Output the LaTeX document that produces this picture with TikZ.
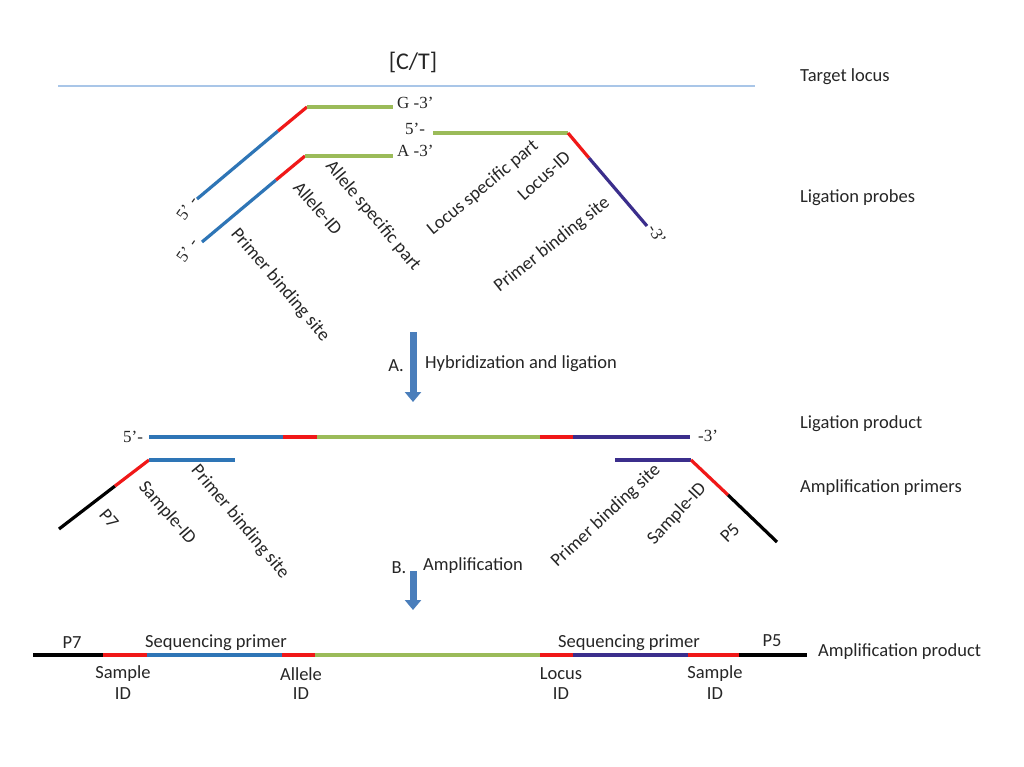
\documentclass[tikz,border=0pt]{standalone}
\usepackage{fontspec}
\setmainfont{Carlito}
\newfontfamily\tms{Liberation Serif}
\usetikzlibrary{arrows.meta}
\definecolor{cblue}{HTML}{2E75B6}
\definecolor{cred}{HTML}{F01818}
\definecolor{cgreen}{HTML}{9BBB59}
\definecolor{cpurple}{HTML}{3B2E8C}
\definecolor{ctarget}{HTML}{A9C6E8}
\definecolor{arrowfill}{HTML}{4A7EBB}
\definecolor{txt}{HTML}{262626}
\begin{document}
\begin{tikzpicture}[x=1pt,y=-1pt,
  seg/.style={line width=3.2pt},
  lab/.style={font=\fontsize{18.5}{21}\selectfont, text=txt, inner sep=0pt},
  tlab/.style={font=\tms\fontsize{17}{20}\selectfont, text=txt, inner sep=0pt},
  bigarrow/.style={arrowfill, line width=7pt, -{Triangle[width=16pt,length=10pt]}}]
\fill[white] (0,0) rectangle (1024,767);
\useasboundingbox (0,0) rectangle (1024,767);

% ---------- target locus ----------
\coordinate (t1) at (58,86); \coordinate (t2) at (755,86);
\draw[ctarget, line width=1.5pt] (t1) -- (t2);
\node[lab, font=\fontsize{24}{28}\selectfont] (ct) at (413,62) {[C/T]};
\node[lab, anchor=mid west] (ltl) at (800,79) {Target locus};

% ---------- ligation probes ----------
\coordinate (ga) at (197,199); \coordinate (gb) at (278,131);
\coordinate (gc) at (307,107); \coordinate (gd) at (393,107);
\draw[seg, cblue] (ga) -- (gb);
\draw[seg, cred] (gb) -- (gc);
\draw[seg, cgreen] (gc) -- (gd);
\node[tlab, anchor=west] (g3) at (397,103) {G -3’};

\coordinate (aa) at (202,242); \coordinate (ab) at (276,180);
\coordinate (ac) at (305,156); \coordinate (ad) at (393,156);
\draw[seg, cblue] (aa) -- (ab);
\draw[seg, cred] (ab) -- (ac);
\draw[seg, cgreen] (ac) -- (ad);
\node[tlab, anchor=west] (a3) at (397,151) {A -3’};

\node[tlab, rotate=55] (p5a) at (187,208) {5’ -};
\node[tlab, rotate=55] (p5b) at (187,250) {5’ -};

\coordinate (la) at (433,133); \coordinate (lb) at (568,133);
\coordinate (lc) at (589,158); \coordinate (ld) at (647,226);
\draw[seg, cgreen] (la) -- (lb);
\draw[seg, cred] (lb) -- (lc);
\draw[seg, cpurple] (lc) -- (ld);
\node[tlab] (l5) at (415,129) {5’-};
\node[tlab, rotate=-60] (l3) at (657,234) {-3’};

\node[lab, rotate=-49] (alid) at (318,208) {Allele-ID};
\node[lab, rotate=-50] (alsp) at (373,216) {Allele specific part};
\node[lab, rotate=-49.5] (pbs1) at (280,285) {Primer binding site};
\node[lab, rotate=39.5] (lssp) at (483,188) {Locus specific part};
\node[lab, rotate=42] (lcid) at (544,176) {Locus-ID};
\node[lab, rotate=38.5] (pbs2) at (552,245) {Primer binding site};
\node[lab, anchor=mid west] (llp) at (800,200) {Ligation probes};

% ---------- arrow A ----------
\coordinate (atop) at (413,332); \coordinate (atip) at (413,402);
\draw[bigarrow] (atop) -- (atip);
\node[lab] (alab) at (396,366) {A.};
\node[lab, anchor=mid west] (atext) at (425,366) {Hybridization and ligation};

% ---------- ligation product ----------
\coordinate (pa) at (149,437); \coordinate (pb) at (283,437);
\coordinate (pc) at (317,437); \coordinate (pd) at (540,437);
\coordinate (pe) at (573,437); \coordinate (pf) at (690,437);
\draw[seg, cblue] (pa) -- (pb);
\draw[seg, cred] (pb) -- (pc);
\draw[seg, cgreen] (pc) -- (pd);
\draw[seg, cred] (pd) -- (pe);
\draw[seg, cpurple] (pe) -- (pf);
\node[tlab] (pp5) at (133,437) {5’-};
\node[tlab] (pp3) at (708,436) {-3’};
\node[lab, anchor=mid west] (llpr) at (800,426) {Ligation product};

% ---------- amplification primers ----------
\coordinate (ma) at (59,529); \coordinate (mb) at (115,486);
\coordinate (mc) at (149,460); \coordinate (md) at (235,460);
\draw[seg, black] (ma) -- (mb);
\draw[seg, cred] (mb) -- (mc);
\draw[seg, cblue] (mc) -- (md);
\coordinate (na) at (615,460); \coordinate (nb) at (691,460);
\coordinate (nc) at (728,495); \coordinate (nd) at (777,542);
\draw[seg, cpurple] (na) -- (nb);
\draw[seg, cred] (nb) -- (nc);
\draw[seg, black] (nc) -- (nd);

\node[lab, rotate=-50] (p7r) at (109,519) {P7};
\node[lab, rotate=-49] (sid1) at (167,513) {Sample-ID};
\node[lab, rotate=-50] (pbs3) at (240,522) {Primer binding site};
\node[lab, rotate=43] (pbs4) at (606,516) {Primer binding site};
\node[lab, rotate=47] (sid2) at (677,514) {Sample-ID};
\node[lab, rotate=45] (p5r) at (730,533) {P5};
\node[lab, anchor=mid west] (lap) at (800,490) {Amplification primers};

% ---------- arrow B ----------
\coordinate (btop) at (413,571); \coordinate (btip) at (413,610);
\draw[bigarrow] (btop) -- (btip);
\node[lab] (blab) at (399,568) {B.};
\node[lab, anchor=mid west] (btext) at (423,568) {Amplification};

% ---------- amplification product ----------
\coordinate (qa) at (33,655); \coordinate (qb) at (103,655);
\coordinate (qc) at (147,655); \coordinate (qd) at (282,655);
\coordinate (qe) at (315,655); \coordinate (qf) at (540,655);
\coordinate (qg) at (573,655); \coordinate (qh) at (688,655);
\coordinate (qi) at (739,655); \coordinate (qj) at (807,655);
\draw[seg, black] (qa) -- (qb);
\draw[seg, cred] (qb) -- (qc);
\draw[seg, cblue] (qc) -- (qd);
\draw[seg, cred] (qd) -- (qe);
\draw[seg, cgreen] (qe) -- (qf);
\draw[seg, cred] (qf) -- (qg);
\draw[seg, cpurple] (qg) -- (qh);
\draw[seg, cred] (qh) -- (qi);
\draw[seg, black] (qi) -- (qj);

\node[lab] (qp7) at (72,643) {P7};
\node[lab] (qsp1) at (216,643) {Sequencing primer};
\node[lab] (qsp2) at (629,643) {Sequencing primer};
\node[lab] (qp5) at (772,641) {P5};
\node[lab, anchor=mid west] (lamp) at (818,654) {Amplification product};

\node[lab] (s1a) at (123,674) {Sample};
\node[lab] (s1b) at (123,694) {ID};
\node[lab] (s2a) at (301,674) {Allele};
\node[lab] (s2b) at (301,694) {ID};
\node[lab] (s3a) at (561,674) {Locus};
\node[lab] (s3b) at (561,694) {ID};
\node[lab] (s4a) at (715,674) {Sample};
\node[lab] (s4b) at (715,694) {ID};
\end{tikzpicture}
\end{document}
